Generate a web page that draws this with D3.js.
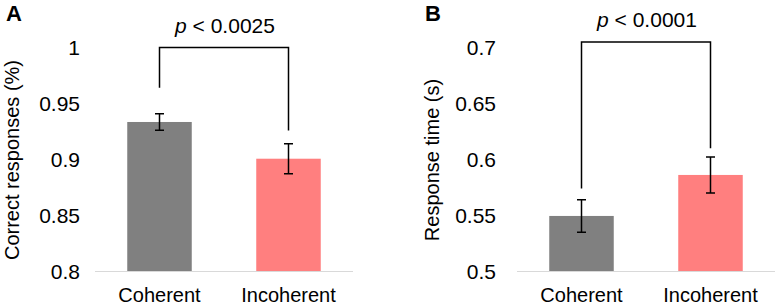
<!DOCTYPE html>
<html>
<head>
<meta charset="utf-8">
<script src="https://cdn.jsdelivr.net/npm/d3@7"></script>
<style>
  body { margin: 0; background: #fff; }
  svg text { font-family: "Liberation Sans", Arial, sans-serif; fill: #000; }
</style>
</head>
<body>
<div class="graph"></div>
<script>
// data
var categories = ["Coherent", "Incoherent"];
var colors = ["#808080", "#ff7f7f"];

var accuracyMeans = [0.9335, 0.9007];
var accuracyErrors = [0.0073, 0.0134];
var accuracyTicks = [0.8, 0.85, 0.9, 0.95, 1];
var accuracyBracketTop = 1.0;
var accuracyBracketLegs = [0.964, 0.926];
var accuracyP = "< 0.0025";

var rtMeans = [0.5496, 0.5862];
var rtErrors = [0.0145, 0.016];
var rtTicks = [0.5, 0.55, 0.6, 0.65, 0.7];
var rtBracketTop = 0.705;
var rtBracketLegs = [0.574, 0.61];
var rtP = "< 0.0001";

var w = 779, h = 305;
var svg = d3.select(".graph").append("svg")
  .attr("width", w).attr("height", h);

var drawPanel = function(p) {
  var x = d3.scaleBand().domain(categories)
    .range([p.x0, p.x1]).paddingInner(0.5).paddingOuter(0.25);
  var y = d3.scaleLinear().domain([p.ticks[0], p.ticks[p.ticks.length - 1]])
    .range([271.5, 47.5]);
  var g = svg.append("g");

  // bars
  g.selectAll("rect.bar").data(p.means).enter().append("rect")
    .attr("x", function(d, i){ return x(categories[i]) })
    .attr("y", function(d){ return y(d) })
    .attr("width", x.bandwidth())
    .attr("height", function(d){ return y(p.ticks[0]) - y(d) })
    .attr("fill", function(d, i){ return colors[i] });

  // baseline
  g.append("line")
    .attr("x1", p.x0).attr("x2", p.x1)
    .attr("y1", y(p.ticks[0])).attr("y2", y(p.ticks[0]))
    .attr("stroke", "#d9d9d9").attr("stroke-width", 1);

  // error bars
  p.means.forEach(function(m, i){
    var cx = x(categories[i]) + x.bandwidth() / 2;
    var lo = y(m - p.errors[i]), hi = y(m + p.errors[i]);
    var path = "M" + cx + "," + lo + "V" + hi +
      "M" + (cx - 4.5) + "," + hi + "H" + (cx + 4.5) +
      "M" + (cx - 4.5) + "," + lo + "H" + (cx + 4.5);
    g.append("path").attr("d", path)
      .attr("stroke", "#000").attr("stroke-width", 1.5).attr("fill", "none");
  });

  // bracket
  var bx = categories.map(function(c){ return x(c) + x.bandwidth() / 2 });
  g.append("path")
    .attr("d", "M" + bx[0] + "," + y(p.bracketLegs[0]) + "V" + y(p.bracketTop) +
      "H" + bx[1] + "V" + y(p.bracketLegs[1]))
    .attr("stroke", "#000").attr("stroke-width", 1.5).attr("fill", "none");

  var pt = g.append("text")
    .attr("x", (bx[0] + bx[1]) / 2 + 1).attr("y", y(p.bracketTop) - 14.5)
    .attr("text-anchor", "middle").attr("font-size", 21);
  pt.append("tspan").attr("font-style", "italic").text("p");
  pt.append("tspan").text(" " + p.pText);

  // y tick labels
  g.selectAll("text.tick").data(p.ticks).enter().append("text")
    .attr("class", "tick")
    .attr("x", p.tickX).attr("y", function(d){ return y(d) })
    .attr("dy", "0.36em")
    .attr("text-anchor", "end").attr("font-size", 21)
    .text(function(d){ return String(d) });

  // category labels
  g.selectAll("text.cat").data(categories).enter().append("text")
    .attr("class", "cat")
    .attr("x", function(d){ return x(d) + x.bandwidth() / 2 })
    .attr("y", 302)
    .attr("text-anchor", "middle").attr("font-size", 20)
    .text(function(d){ return d });

  // y title
  g.append("text")
    .attr("transform", "translate(" + p.titleX + ",160) rotate(-90)")
    .attr("text-anchor", "middle").attr("font-size", 20)
    .text(p.title);

  // panel letter
  g.append("text")
    .attr("x", p.letterX).attr("y", 20.5)
    .attr("font-size", 22).attr("font-weight", "bold")
    .text(p.letter);
};

drawPanel({
  x0: 95, x1: 353, tickX: 80, titleX: 19, letterX: 6, letter: "A",
  title: "Correct responses (%)",
  means: accuracyMeans, errors: accuracyErrors, ticks: accuracyTicks,
  bracketTop: accuracyBracketTop, bracketLegs: accuracyBracketLegs, pText: accuracyP
});

drawPanel({
  x0: 517, x1: 775, tickX: 496, titleX: 439, letterX: 425, letter: "B",
  title: "Response time (s)",
  means: rtMeans, errors: rtErrors, ticks: rtTicks,
  bracketTop: rtBracketTop, bracketLegs: rtBracketLegs, pText: rtP
});
</script>
</body>
</html>
